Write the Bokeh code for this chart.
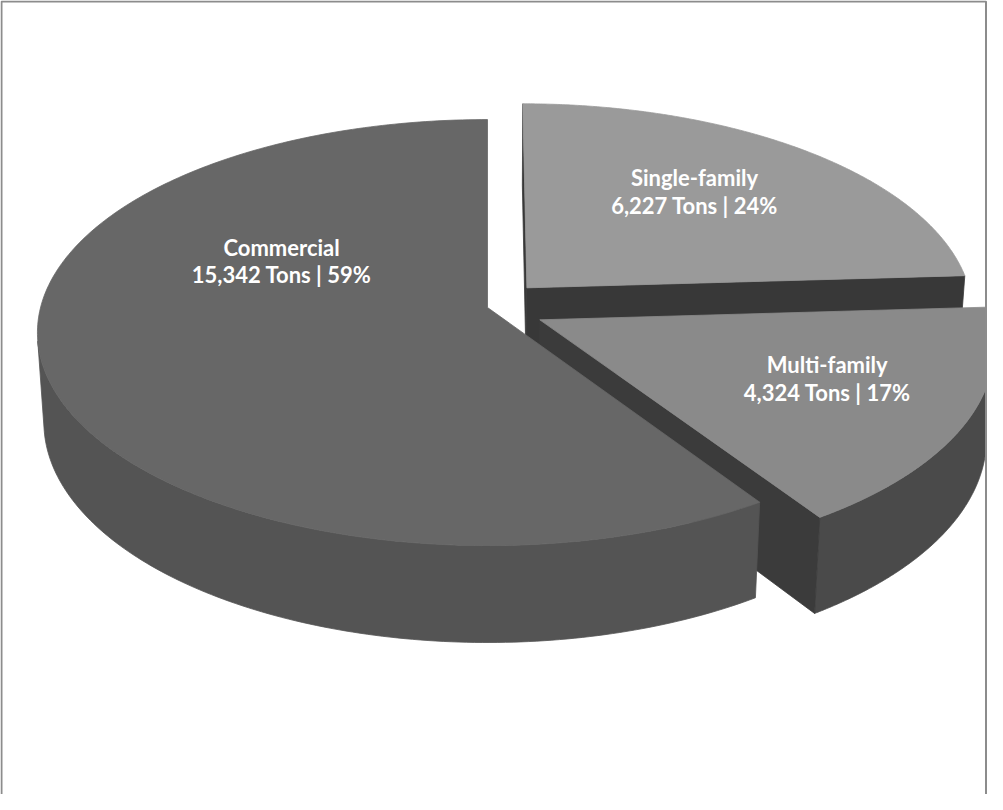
import math
import numpy as np
from bokeh.plotting import figure
from bokeh.models import Range1d
from bokeh.embed import file_html
from bokeh.resources import INLINE
from bokeh.core.properties import value

# ---------------- data ----------------
categories = ["Single-family", "Multi-family", "Commercial"]
tons = [6227, 4324, 15342]
unit = "Tons"

# ---------------- style ----------------
top_colors = ["#9a9a9a", "#8a8a8a", "#676767"]
side_colors = ["#3c3c3c", "#4a4a4a", "#545454"]
radial_colors = ["#383838", "#3b3b3b", "#3b3b3b"]
explode = [0.13, 0.13, 0.0]
label_r = [0.64, 0.67, 0.525]
label_ang = [50.6, -23.4, 154.3]

W, H = 987, 794
CX, CY = 487, 307          # screen position of pie centre inside the figure
FOCAL, DIST = 3352.0, 7.5  # perspective camera
SIN_T = 0.47
COS_T = math.sqrt(1 - SIN_T ** 2)
THICK = 0.229
START = 90.0
N = 240


def project(X, Y, Z):
    X = np.asarray(X, float); Y = np.asarray(Y, float); Z = np.asarray(Z, float)
    den = DIST + Z * COS_T - Y * SIN_T
    return FOCAL * X / den, FOCAL * (Y * COS_T + Z * SIN_T) / den


p = figure(width=W, height=H, x_range=Range1d(-CX, W - CX), y_range=Range1d(-(H - CY), CY),
           output_backend="svg", toolbar_location=None, min_border=0,
           x_axis_location=None, y_axis_location=None)
p.grid.visible = False
p.outline_line_color = None
p.background_fill_color = "white"
p.border_fill_color = "white"

total = float(sum(tons))
xs, ys, cols = [], [], []

def add(px, py, c):
    xs.append(list(px)); ys.append(list(py)); cols.append(c)

cum = 0.0
lab_x, lab_y, lab_t = [], [], []
for i, v in enumerate(tons):
    a0 = START - 360.0 * cum / total
    a1 = a0 - 360.0 * v / total
    cum += v
    mid = math.radians((a0 + a1) / 2)
    cx = explode[i] * math.cos(mid)
    cz = explode[i] * math.sin(mid)
    th = np.radians(np.linspace(a0, a1, N))
    rx = cx + np.cos(th)
    rz = cz + np.sin(th)

    # outer side (visible part only)
    vis = (-1 - cx * np.cos(th) - cz * np.sin(th) - DIST * COS_T * np.sin(th)) > 0
    idx = np.where(vis)[0]
    if len(idx):
        runs = np.split(idx, np.where(np.diff(idx) > 1)[0] + 1)
        for r in runs:
            if len(r) < 2:
                continue
            tx, ty = project(rx[r], np.zeros(len(r)), rz[r])
            bx, by = project(rx[r], -THICK * np.ones(len(r)), rz[r])
            add(np.concatenate([tx, bx[::-1]]), np.concatenate([ty, by[::-1]]), side_colors[i])

    # radial faces
    for ang, psi in ((a0, a0 + 90), (a1, a1 - 90)):
        pr = math.radians(psi)
        d = -cx * math.cos(pr) + math.sin(pr) * (-DIST * COS_T - cz)
        if d > 0:
            ar = math.radians(ang)
            ex, ez = cx + math.cos(ar), cz + math.sin(ar)
            fx, fy = project([cx, ex, ex, cx], [0, 0, -THICK, -THICK], [cz, ez, ez, cz])
            add(fx, fy, radial_colors[i])

    # top face
    tx, ty = project(np.concatenate([[cx], rx]), np.zeros(N + 1), np.concatenate([[cz], rz]))
    add(tx, ty, top_colors[i])

    la = math.radians(label_ang[i])
    lx, ly = project(cx + label_r[i] * math.cos(la), 0.0, cz + label_r[i] * math.sin(la))
    lab_x.append(float(lx)); lab_y.append(float(ly))
    lab_t.append(f"{categories[i]}\n{v:,} {unit} | {round(100 * v / total)}%")

p.patches(xs, ys, fill_color=cols, line_color=cols, line_width=0.8)

p.text(lab_x, lab_y, text=lab_t, text_font=value("Lato"), text_font_style="bold",
       text_font_size="22px", text_color="white", text_align="center",
       text_baseline="middle", text_line_height=1.02)

# chart-area border (left, top, right)
x0, x1 = -CX + 1, W - CX - 1.5
yt, yb = CY - 1, -(H - CY)
p.line([x0, x0, x1, x1], [yb, yt, yt, yb], line_color="#8c8c8c", line_width=2)

open("out.html", "w").write(file_html(p, INLINE))
